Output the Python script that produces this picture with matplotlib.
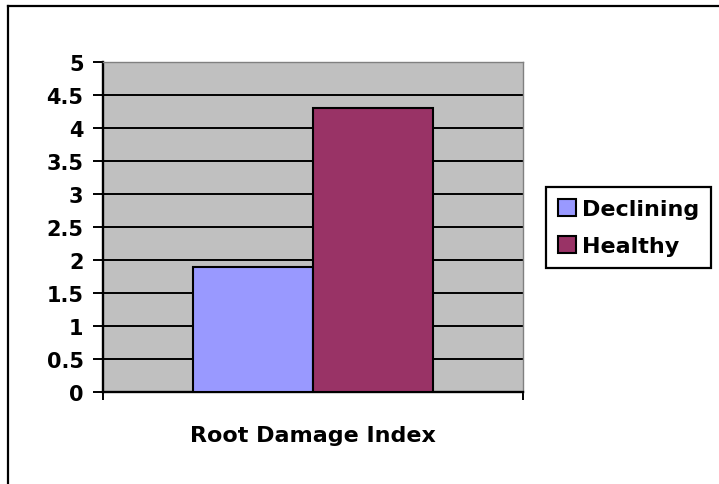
import numpy as np
import matplotlib
matplotlib.use("Agg")
import matplotlib.pyplot as plt
from matplotlib.lines import Line2D

categories = ["Root Damage Index"]
series = ["Declining", "Healthy"]
declining = [1.9]
healthy = [4.3]
yticks = [0, 0.5, 1, 1.5, 2, 2.5, 3, 3.5, 4, 4.5, 5]
ytick_labels = ["0", "0.5", "1", "1.5", "2", "2.5", "3", "3.5", "4", "4.5", "5"]

COLORS = ["#9999FF", "#993366"]
W, H = 719, 485

plt.rcParams["font.family"] = ["DejaVu Sans"]
plt.rcParams["font.weight"] = "bold"

fig = plt.figure(figsize=(W / 100, H / 100), dpi=100)
ax = fig.add_axes([103 / W, 1 - 393 / H, 420 / W, 330 / H])
ax.set_facecolor("#C0C0C0")

x = np.arange(len(categories))
bw = 120 / 420
for i, (name, vals) in enumerate(zip(series, [declining, healthy])):
    ax.bar(x + (i - 0.5) * bw, vals, width=bw, color=COLORS[i],
           edgecolor="black", linewidth=1.5, label=name, zorder=3)

ax.set_xlim(-0.5, 0.5)
ax.set_ylim(0, 5)
ax.set_yticks(yticks)
ax.set_yticklabels(ytick_labels, fontsize=15, fontweight="bold")
ax.yaxis.grid(True, color="black", lw=1.4, zorder=1)
ax.set_axisbelow(True)
ax.tick_params(axis="y", length=7, width=1.4, pad=7, direction="out")
ax.set_xticks([-0.5, 0.5])
ax.set_xticklabels(["", ""])
ax.tick_params(axis="x", length=6, width=1.4, direction="out")
ax.set_xlabel(categories[0], fontsize=16, fontweight="bold", labelpad=14)

for s in ("left", "bottom"):
    ax.spines[s].set_linewidth(1.7)
    ax.spines[s].set_color("black")
for s in ("top", "right"):
    ax.spines[s].set_linewidth(1.0)
    ax.spines[s].set_color("#808080")

leg = ax.legend(loc="center left", bbox_to_anchor=(546 / W, 1 - 228.5 / H),
                bbox_transform=fig.transFigure, frameon=True, fancybox=False,
                framealpha=1, fontsize=16, handlelength=0.8, handleheight=0.8,
                handletextpad=0.25, labelspacing=0.75, borderpad=0.55,
                borderaxespad=0)
leg.get_frame().set_edgecolor("black")
leg.get_frame().set_linewidth(1.6)
for t in leg.get_texts():
    t.set_fontweight("bold")
for h in leg.legend_handles:
    h.set_linewidth(1.5)

# outer chart border (top and left edges visible)
fig.add_artist(Line2D([8 / W, 1], [1 - 7 / H, 1 - 7 / H], color="black", lw=1.6,
                      transform=fig.transFigure))
fig.add_artist(Line2D([8 / W, 8 / W], [0, 1 - 7 / H], color="black", lw=1.6,
                      transform=fig.transFigure))

fig.savefig("out.png", dpi=100)
